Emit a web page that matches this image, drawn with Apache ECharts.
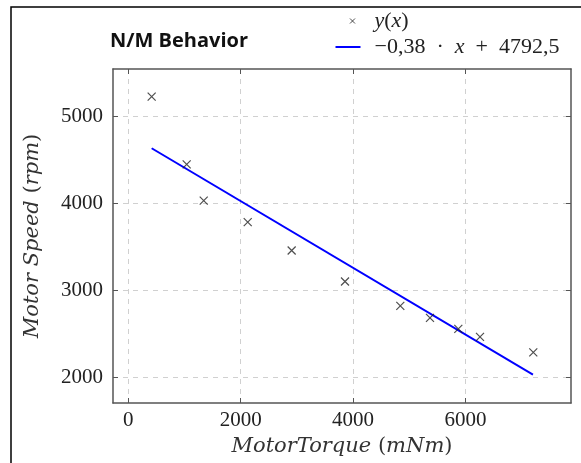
<!DOCTYPE html>
<html>
<head>
<meta charset="utf-8">
<script src="https://cdn.jsdelivr.net/npm/echarts@6/dist/echarts.min.js"></script>
<style>
html,body{margin:0;padding:0;background:#fff;}
#chart{width:581px;height:463px;}
</style>
</head>
<body>
<div id="chart"></div>
<script>
// Measured data (Motor torque in mNm, motor speed in rpm)
var torque = [416, 1039, 1342, 2125, 2907, 3856, 4840, 5368, 5872, 6258, 7206];
var speed  = [5222, 4445, 4028, 3782, 3456, 3100, 2820, 2682, 2556, 2464, 2287];
// Fitted line endpoints
var fitX = [416, 7200];
var fitY = [4630, 2030];
var xTicks = [0, 2000, 4000, 6000];
var yTicks = [2000, 3000, 4000, 5000];
var scatterName = 'y(x)';
var fitName = '−0,38 · x + 4792,5';

var scatterData = torque.map(function (t, i) { return [t, speed[i]]; });
var fitData = fitX.map(function (t, i) { return [t, fitY[i]]; });

var serif = 'Liberation Serif';
var nameFont = 'DejaVu Serif';
var axisColor = '#555';

var chart = echarts.init(document.getElementById('chart'), null, {renderer: 'canvas'});

function plain(v) { return String(v); }

var tickStyle = {show: true, inside: true, length: 5, lineStyle: {color: axisColor, width: 1}};
var lineStyleAxis = {show: true, onZero: false, lineStyle: {color: axisColor, width: 1.5}};
var gridLine = {show: true, lineStyle: {color: '#d0d0d0', type: [5, 5], width: 1}};

var nameRich = {
  i: {fontFamily: nameFont, fontStyle: 'italic', fontSize: 21, color: '#333'},
  n: {fontFamily: nameFont, fontSize: 21, color: '#333'}
};

var option = {
  backgroundColor: '#fff',
  animation: false,
  title: {
    text: 'N/M Behavior', left: 105, top: 26,
    textStyle: {fontFamily: 'Open Sans', fontWeight: 'bold', fontSize: 20, color: '#111'}
  },
  legend: {
    orient: 'vertical', left: 329, top: 5, itemWidth: 27, itemHeight: 14, itemGap: 4,
    data: [
      {name: scatterName, icon: 'path://M0,0M27,0M27,14M0,14M15.5,4.5L20.5,9.5M20.5,4.5L15.5,9.5',
       itemStyle: {color: 'transparent', borderColor: '#222', borderWidth: 1}},
      {name: fitName, icon: 'path://M0,0M27,0M27,14M0,14M1,6L26,6L26,8L1,8Z',
       itemStyle: {color: '#0000ff', borderWidth: 0}}
    ],
    textStyle: {
      fontFamily: serif, fontSize: 22, color: '#222', lineHeight: 20, padding: [0, 0, 0, 8],
      rich: {
        i: {fontFamily: serif, fontStyle: 'italic', fontSize: 22, color: '#222'},
        n: {fontFamily: serif, fontSize: 22, color: '#222'}
      }
    },
    formatter: function (name) {
      if (name === scatterName) return '{i|y}{n|(}{i|x}{n|)}';
      return '{n|−0,38\u2002·\u2002}{i|x}{n|\u2002+\u20024792,5}';
    }
  },
  grid: {left: 113, right: 10, top: 69, bottom: 60, containLabel: false},
  xAxis: [
    {
      type: 'value', min: -272, max: 7877, position: 'bottom',
      axisLine: lineStyleAxis,
      axisTick: Object.assign({customValues: xTicks}, tickStyle),
      name: '{i|MotorTorque} {n|(}{i|mNm}{n|)}',
      nameLocation: 'middle', nameGap: 32,
      nameTextStyle: {fontFamily: nameFont, fontSize: 21, color: '#333', rich: nameRich},
      axisLabel: {show: true, customValues: xTicks, formatter: plain, margin: 7,
        fontFamily: serif, fontSize: 21, color: '#222'},
      splitLine: gridLine
    },
    {
      type: 'value', min: -272, max: 7877, position: 'top',
      axisLine: lineStyleAxis,
      axisTick: Object.assign({customValues: xTicks}, tickStyle),
      axisLabel: {show: false},
      splitLine: {show: false}
    }
  ],
  yAxis: [
    {
      type: 'value', min: 1705, max: 5540, position: 'left',
      axisLine: lineStyleAxis,
      axisTick: Object.assign({customValues: yTicks}, tickStyle),
      name: '{i|Motor Speed} {n|(}{i|rpm}{n|)}',
      nameLocation: 'middle', nameGap: 70, nameRotate: 90,
      nameTextStyle: {fontFamily: nameFont, fontSize: 21, color: '#333', rich: nameRich},
      axisLabel: {show: true, customValues: yTicks, formatter: plain, margin: 10,
        fontFamily: serif, fontSize: 21, color: '#222'},
      splitLine: gridLine
    },
    {
      type: 'value', min: 1705, max: 5540, position: 'right',
      axisLine: lineStyleAxis,
      axisTick: Object.assign({customValues: yTicks}, tickStyle),
      axisLabel: {show: false},
      splitLine: {show: false}
    }
  ],
  graphic: [{
    type: 'polyline', silent: true, z: 100,
    shape: {points: [[11, 463], [11, 7], [581, 7]]},
    style: {stroke: '#000', lineWidth: 1.5, fill: null}
  }],
  series: [
    {
      name: scatterName, type: 'scatter', xAxisIndex: 0, yAxisIndex: 0,
      data: scatterData,
      symbol: 'path://M0,0L8,8M8,0L0,8', symbolSize: 8,
      itemStyle: {color: 'transparent', borderColor: '#222', borderWidth: 1.2},
      z: 3
    },
    {
      name: fitName, type: 'line', xAxisIndex: 0, yAxisIndex: 0,
      data: fitData, symbol: 'none',
      lineStyle: {color: '#0000ff', width: 2},
      itemStyle: {color: '#0000ff'},
      z: 2
    }
  ]
};
chart.setOption(option);
</script>
</body>
</html>
